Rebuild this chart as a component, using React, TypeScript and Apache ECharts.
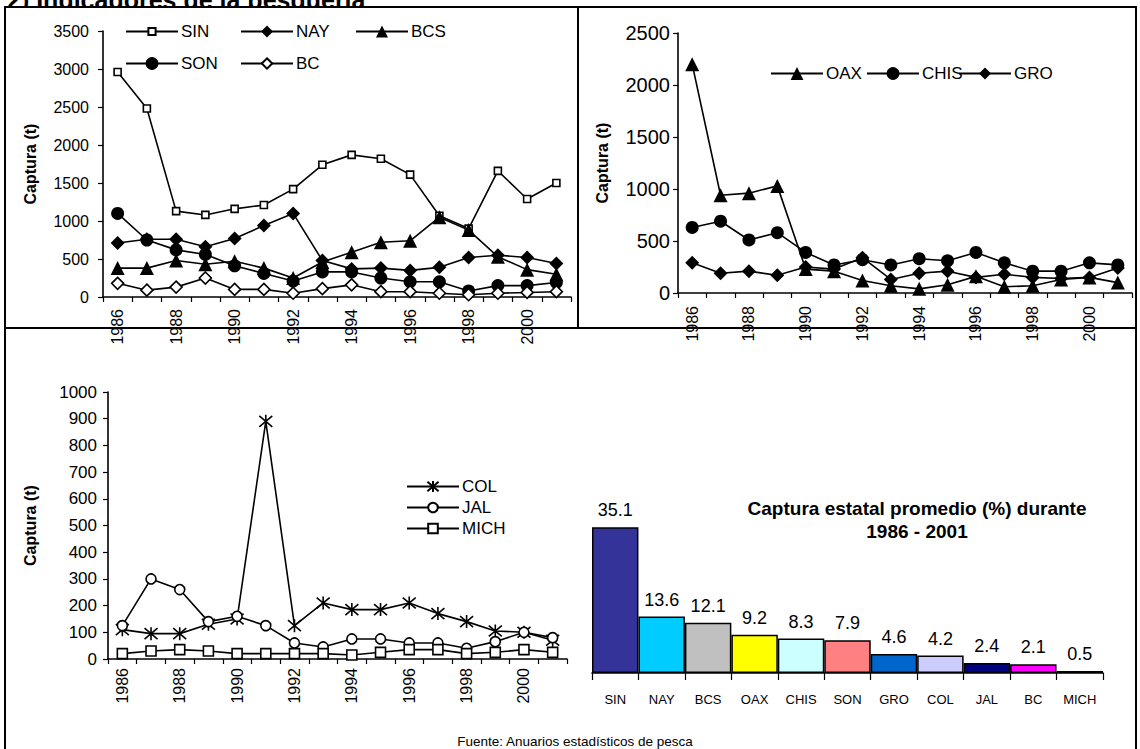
import React, { useEffect, useRef } from 'react';
import * as echarts from 'echarts';

const years = ['1986', '1987', '1988', '1989', '1990', '1991', '1992', '1993', '1994', '1995', '1996', '1997', '1998', '1999', '2000', '2001'];

// Top-left panel
const sin = [2960, 2480, 1130, 1080, 1160, 1210, 1420, 1740, 1870, 1820, 1610, 1070, 900, 1660, 1290, 1500];
const nay = [710, 760, 760, 660, 770, 940, 1100, 480, 370, 380, 350, 390, 520, 550, 520, 440];
const bcs = [380, 380, 480, 430, 470, 380, 250, 460, 590, 720, 740, 1050, 880, 530, 360, 300];
const son = [1100, 750, 620, 560, 410, 310, 210, 330, 330, 250, 200, 200, 80, 150, 150, 190];
const bc = [180, 90, 130, 250, 100, 100, 50, 110, 160, 70, 70, 50, 30, 50, 60, 70];

// Top-right panel
const oax = [2200, 940, 960, 1030, 230, 210, 120, 70, 40, 80, 160, 60, 70, 130, 150, 100];
const chis = [630, 690, 510, 580, 390, 270, 320, 270, 330, 310, 390, 290, 210, 210, 290, 270];
const gro = [290, 190, 210, 170, 250, 230, 340, 130, 190, 210, 150, 180, 150, 140, 150, 240];

// Bottom-left panel
const col = [110, 95, 95, 130, 150, 890, 125, 210, 185, 185, 210, 170, 140, 105, 100, 70];
const jal = [125, 300, 260, 140, 160, 125, 60, 45, 75, 75, 60, 60, 40, 65, 100, 80];
const mich = [20, 30, 35, 30, 20, 20, 20, 20, 15, 25, 35, 35, 20, 25, 35, 25];

// Bar panel
const states = ['SIN', 'NAY', 'BCS', 'OAX', 'CHIS', 'SON', 'GRO', 'COL', 'JAL', 'BC', 'MICH'];
const shares = [35.1, 13.6, 12.1, 9.2, 8.3, 7.9, 4.6, 4.2, 2.4, 2.1, 0.5];
const barColors = ['#333399', '#00CCFF', '#C0C0C0', '#FFFF00', '#CCFFFF', '#FF8080', '#0066CC', '#CCCCFF', '#000080', '#FF00FF', '#000000'];

const FONT = '"Liberation Sans", Arial, sans-serif';
const ASTERISK = 'path://M0,0L10,10M10,0L0,10M5,-1L5,11';

function lineSeries(name: string, data: number[], idx: number, symbol: string, size: number, open: boolean) {
  return {
    type: 'line',
    name,
    data,
    xAxisIndex: idx,
    yAxisIndex: idx,
    symbol,
    symbolSize: size,
    showSymbol: true,
    showAllSymbol: true,
    color: '#000',
    lineStyle: { color: '#000', width: 1.6 },
    itemStyle: open
      ? { color: symbol === ASTERISK ? 'rgba(0,0,0,0)' : '#fff', borderColor: '#000', borderWidth: 1.6 }
      : { color: '#000', borderColor: '#000', borderWidth: 0 },
    emphasis: { disabled: true },
  };
}

function legendItem(name: string, left: number, cy: number, itemHeight: number) {
  return {
    data: [name],
    left,
    top: cy - 10,
    padding: 0,
    itemGap: 0,
    itemWidth: 52,
    itemHeight,
    selectedMode: false,
    textStyle: { fontSize: 17, color: '#000', fontFamily: FONT, padding: [0, 0, 0, -2] },
  };
}

function catAxis(gridIndex: number, margin: number) {
  return {
    type: 'category',
    gridIndex,
    data: years,
    boundaryGap: true,
    axisLine: { lineStyle: { color: '#000', width: 1.6 } },
    axisTick: { show: true, interval: 0, length: 5, lineStyle: { color: '#000', width: 1.2 } },
    axisLabel: { interval: 1, rotate: 90, fontSize: 16, color: '#000', margin, fontFamily: FONT },
    splitLine: { show: false },
  };
}

function valAxis(gridIndex: number, max: number, interval: number, fontSize: number, margin: number, nameGap: number) {
  return {
    type: 'value',
    gridIndex,
    min: 0,
    max,
    interval,
    name: 'Captura (t)',
    nameLocation: 'middle',
    nameRotate: 90,
    nameGap,
    nameTextStyle: { fontSize: 16, fontWeight: 'bold', color: '#000', fontFamily: FONT },
    axisLine: { show: true, lineStyle: { color: '#000', width: 1.6 } },
    axisTick: { show: true, length: 5, lineStyle: { color: '#000', width: 1.2 } },
    axisLabel: { fontSize, color: '#000', margin, fontFamily: FONT, formatter: (v: number) => String(v) },
    splitLine: { show: false },
  };
}

export default function App() {
  const ref = useRef<HTMLDivElement>(null);
  useEffect(() => {
    if (!ref.current) return;
    const chart = echarts.init(ref.current, null, { renderer: 'svg' });
    const option: any = {
      animation: false,
      backgroundColor: '#fff',
      textStyle: { fontFamily: FONT },
      grid: [
        { left: 103, top: 31, width: 468, height: 266, outerBoundsMode: 'none' },
        { left: 678, top: 33, width: 454, height: 260, outerBoundsMode: 'none' },
        { left: 108, top: 392, width: 459, height: 267, outerBoundsMode: 'none' },
        { left: 592, top: 507, width: 511, height: 166, outerBoundsMode: 'none' },
      ],
      xAxis: [
        catAxis(0, 12),
        catAxis(1, 13),
        catAxis(2, 9),
        {
          type: 'category',
          gridIndex: 3,
          data: states,
          boundaryGap: true,
          axisLine: { lineStyle: { color: '#000', width: 1.6 } },
          axisTick: { show: true, interval: 0, length: 7, lineStyle: { color: '#000', width: 1.2 } },
          axisLabel: { interval: 0, fontSize: 13, color: '#000', margin: 20, fontFamily: FONT },
        },
      ],
      yAxis: [
        valAxis(0, 3500, 500, 16, 14, 65),
        valAxis(1, 2500, 500, 20, 8, 68),
        valAxis(2, 1000, 100, 17, 11, 70),
        { type: 'value', gridIndex: 3, min: 0, max: 40, show: false, splitLine: { show: false } },
      ],
      legend: [
        legendItem('SIN', 125, 33, 9),
        legendItem('NAY', 240, 33, 15),
        legendItem('BCS', 355, 33, 15),
        legendItem('SON', 125, 65, 16),
        legendItem('BC', 240, 65, 13),
        legendItem('OAX', 770, 75, 16),
        legendItem('CHIS', 866, 75, 16),
        legendItem('GRO', 958, 75, 15),
        legendItem('COL', 406, 488, 14),
        legendItem('JAL', 406, 509, 12),
        legendItem('MICH', 406, 530, 12),
      ],
      series: [
        lineSeries('SIN', sin, 0, 'rect', 7, true),
        lineSeries('NAY', nay, 0, 'diamond', 14, false),
        lineSeries('BCS', bcs, 0, 'triangle', 14, false),
        lineSeries('SON', son, 0, 'circle', 13, false),
        lineSeries('BC', bc, 0, 'diamond', 12, true),
        lineSeries('OAX', oax, 1, 'triangle', 14, false),
        lineSeries('CHIS', chis, 1, 'circle', 13, false),
        lineSeries('GRO', gro, 1, 'diamond', 14, false),
        lineSeries('COL', col, 2, ASTERISK, 13, true),
        lineSeries('JAL', jal, 2, 'circle', 10, true),
        lineSeries('MICH', mich, 2, 'rect', 10, true),
        {
          type: 'bar',
          name: 'share',
          xAxisIndex: 3,
          yAxisIndex: 3,
          barCategoryGap: '0%',
          data: shares.map((v, i) => ({
            value: v,
            itemStyle: { color: barColors[i], borderColor: '#000', borderWidth: 1.5 },
          })),
          label: { show: true, position: 'top', distance: 8, fontSize: 18, color: '#000', fontFamily: FONT },
          emphasis: { disabled: true },
        },
      ],
      graphic: [
        {
          type: 'text',
          left: 7,
          top: -13,
          style: { text: '2) Indicadores de la pesquería', font: `bold 25px ${FONT}`, fill: '#000' },
          z: 1,
        },
        { type: 'rect', shape: { x: 0, y: 8, width: 1140, height: 8 }, style: { fill: '#fff' }, z: 2 },
        {
          type: 'rect',
          shape: { x: 5, y: 7, width: 1131, height: 760 },
          style: { fill: 'none', stroke: '#000', lineWidth: 2 },
          z: 3,
        },
        { type: 'line', shape: { x1: 5, y1: 328, x2: 1136, y2: 328 }, style: { stroke: '#000', lineWidth: 2 }, z: 3 },
        { type: 'line', shape: { x1: 578, y1: 7, x2: 578, y2: 328 }, style: { stroke: '#000', lineWidth: 2 }, z: 3 },
        {
          type: 'text',
          x: 917,
          y: 520,
          style: {
            text: 'Captura estatal promedio (%) durante\n1986 - 2001',
            font: `bold 19px ${FONT}`,
            fill: '#000',
            align: 'center',
            verticalAlign: 'middle',
            lineHeight: 23,
          },
          z: 3,
        },
        {
          type: 'text',
          x: 575,
          y: 741,
          style: { text: 'Fuente: Anuarios estadísticos de pesca', font: `13.5px ${FONT}`, fill: '#000', align: 'center', verticalAlign: 'middle' },
          z: 3,
        },
      ],
    };
    chart.setOption(option);
    return () => chart.dispose();
  }, []);
  return <div ref={ref} style={{ position: 'absolute', left: 0, top: 0, width: 1140, height: 749 }} />;
}
